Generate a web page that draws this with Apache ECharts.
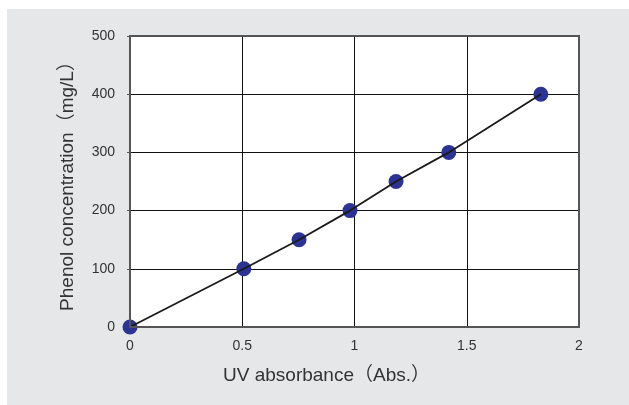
<!DOCTYPE html>
<html><head><meta charset="utf-8">
<script src="https://cdn.jsdelivr.net/npm/echarts@6/dist/echarts.min.js"></script>
<style>html,body{margin:0;padding:0;background:#fff}#c{width:629px;height:405px}</style>
</head><body><div id="c"></div>
<script>
const absorbance = [0, 0.507, 0.753, 0.98, 1.185, 1.42, 1.83];
const phenol = [0, 100, 150, 200, 250, 300, 400];
const xTicks = [0, 0.5, 1, 1.5, 2];
const yTicks = [0, 100, 200, 300, 400, 500];
const xName = 'UV absorbance（Abs.）';
const yName = 'Phenol concentration（mg/L）';

const chart = echarts.init(document.getElementById('c'));
const font = 'Liberation Sans, Arial, Noto Sans CJK JP, sans-serif';
const pts = absorbance.map((x,i)=>[x, phenol[i]]);
chart.setOption({
  backgroundColor: '#ffffff',
  animation: false,
  graphic: [
    {type:'rect', z:-10, silent:true, shape:{x:7,y:9,width:622,height:396}, style:{fill:'#e6e7e8'}},
    {type:'rect', z:100, silent:true, shape:{x:130,y:36,width:449,height:291}, style:{fill:'none', stroke:'#555', lineWidth:2}}
  ],
  grid: {left:130, top:36, width:449, height:291, show:true, backgroundColor:'#ffffff', borderWidth:0},
  xAxis: {
    type:'value', min:0, max:2, interval:0.5,
    name: xName, nameLocation:'middle', nameGap:39,
    nameTextStyle:{fontFamily:font, fontSize:19, color:'#333', padding:[0,56,0,0]},
    axisLine:{show:true, lineStyle:{color:'#555', width:2}},
    axisTick:{show:false},
    axisLabel:{fontFamily:font, fontSize:14, color:'#333', margin:12,
      formatter: v => xTicks.includes(v) ? String(v) : ''},
    splitLine:{show:true, lineStyle:{color:'#111', width:1}}
  },
  yAxis: {
    type:'value', min:0, max:500, interval:100,
    name: yName, nameLocation:'middle', nameGap:53,
    nameTextStyle:{fontFamily:font, fontSize:19, color:'#333'},
    axisLine:{show:true, lineStyle:{color:'#555', width:2}},
    axisTick:{show:true, length:3, inside:false, lineStyle:{color:'#555'}},
    axisLabel:{fontFamily:font, fontSize:14, color:'#333', margin:15,
      formatter: v => yTicks.includes(v) ? String(v) : ''},
    splitLine:{show:true, lineStyle:{color:'#111', width:1}}
  },
  series: [
    {type:'line', data: pts, symbol:'none',
     lineStyle:{color:'#1a1a1a', width:1.8}, z:3},
    {type:'scatter', data: pts, symbolSize:15,
     itemStyle:{color:'#2b3393', opacity:1}, z:2}
  ]
});
</script></body></html>
